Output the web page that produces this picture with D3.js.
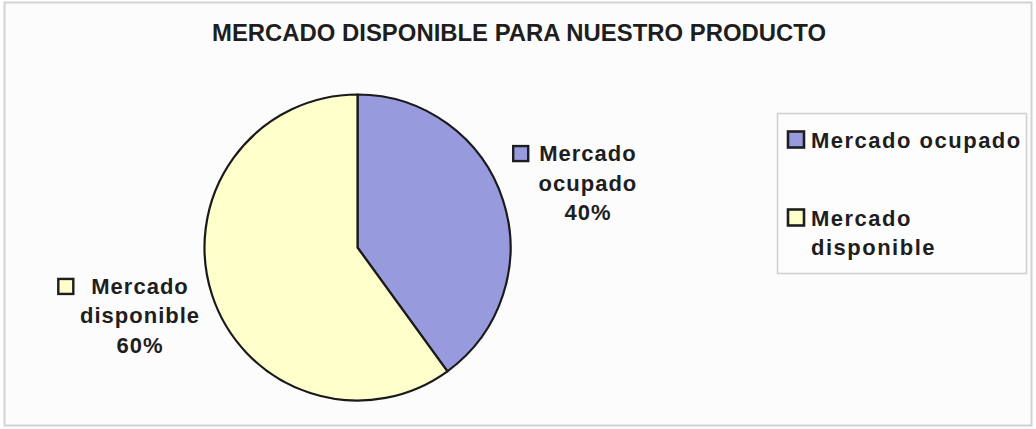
<!DOCTYPE html>
<html>
<head>
<meta charset="utf-8">
<script src="https://cdn.jsdelivr.net/npm/d3@7"></script>
<style>
  html, body { margin: 0; padding: 0; background: #ffffff; }
  svg { display: block; }
  text { font-family: "Liberation Sans", Arial, sans-serif; fill: #1e1e1e; }
</style>
</head>
<body>
<svg id="chart" width="1036" height="429"></svg>
<script>
// Chart data
const title = "MERCADO DISPONIBLE PARA NUESTRO PRODUCTO";
const categories = ["Mercado ocupado", "Mercado disponible"];
const values = [40, 60];
const colors = ["#989ade", "#ffffcc"];
// Text lines of each slice label (percentage appended below) and legend entry
const labelLines = [["Mercado", "ocupado"], ["Mercado", "disponible"]];
const legendLines = [["Mercado ocupado"], ["Mercado", "disponible"]];

const svg = d3.select("#chart");

// Chart area frame
svg.append("rect")
  .attr("x", 4.5).attr("y", 2.5)
  .attr("width", 1027).attr("height", 423)
  .attr("fill", "#fcfcfc")
  .attr("stroke", "#d2d2d2").attr("stroke-width", 2);

// Title
svg.append("text")
  .attr("x", 519).attr("y", 41)
  .attr("text-anchor", "middle")
  .attr("font-family", "'Liberation Sans Narrow', 'Arial Narrow', 'Liberation Sans', sans-serif")
  .attr("font-weight", "bold")
  .attr("font-size", 24)
  .attr("textLength", 614)
  .attr("lengthAdjust", "spacingAndGlyphs")
  .text(title);

// Pie
const cx = 357.5, cy = 247.5, R = 153;
const pie = d3.pie().sort(null).value(d => d);
const arcs = pie(values);
const arc = d3.arc().innerRadius(0).outerRadius(R);

const g = svg.append("g").attr("transform", `translate(${cx},${cy})`);
g.selectAll("path.slice")
  .data(arcs)
  .enter().append("path")
  .attr("class", "slice")
  .attr("d", arc)
  .attr("fill", (d, i) => colors[i])
  .attr("stroke", "#1a1a1a")
  .attr("stroke-width", 2.2)
  .attr("stroke-linejoin", "round");

// Slice labels, placed outside the pie along each slice's mid-angle
const labelArc = d3.arc().innerRadius(236).outerRadius(236);
const labelNudge = [[6, 16], [7, 3]];
const lineH = 29.5;
const labelFont = { size: 22, spacing: 1 };
const keyGap = [11, 18];

arcs.forEach((a, i) => {
  const [px, py] = labelArc.centroid(a);
  const ax = cx + px + labelNudge[i][0];
  const ay = cy + py + labelNudge[i][1];   // baseline of the middle line
  const lines = labelLines[i].concat([d3.format(".0%")(values[i] / d3.sum(values))]);
  const lg = svg.append("g");
  const texts = lines.map((ln, j) =>
    lg.append("text")
      .attr("x", ax)
      .attr("y", ay + (j - 1) * lineH)
      .attr("text-anchor", "middle")
      .attr("font-weight", "bold")
      .attr("font-size", labelFont.size)
      .attr("letter-spacing", labelFont.spacing)
      .text(ln)
  );
  // colour key in front of the first line
  const w0 = texts[0].node().getComputedTextLength();
  const ks = 15;
  lg.append("rect")
    .attr("x", ax - w0 / 2 - keyGap[i] - ks)
    .attr("y", ay - lineH - ks)
    .attr("width", ks).attr("height", ks)
    .attr("fill", colors[i])
    .attr("stroke", "#1e1e1e").attr("stroke-width", 2.4);
});

// Legend
const legend = svg.append("g");
legend.append("rect")
  .attr("x", 777.5).attr("y", 113.5)
  .attr("width", 249).attr("height", 160)
  .attr("fill", "#fdfdfd")
  .attr("stroke", "#cfcfcf").attr("stroke-width", 1.5);

const legendY = [147.5, 225.5];
categories.forEach((c, i) => {
  legend.append("rect")
    .attr("x", 788).attr("y", legendY[i] - 16)
    .attr("width", 16).attr("height", 16)
    .attr("fill", colors[i])
    .attr("stroke", "#1e1e1e").attr("stroke-width", 2.6);
  legendLines[i].forEach((ln, j) => {
    legend.append("text")
      .attr("x", 811)
      .attr("y", legendY[i] + j * lineH)
      .attr("font-weight", "bold")
      .attr("font-size", labelFont.size)
      .attr("letter-spacing", 1.5)
      .text(ln);
  });
});
</script>
</body>
</html>
